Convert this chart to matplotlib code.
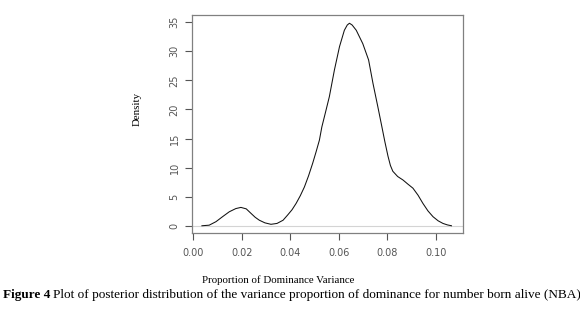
import matplotlib
matplotlib.use("Agg")
import matplotlib.pyplot as plt

# density curve
prop = [0.0035, 0.0065, 0.0093, 0.0120, 0.0148, 0.0175, 0.0196, 0.0218, 0.0237,
        0.0255, 0.0272, 0.0295, 0.0320, 0.0345, 0.0370, 0.0389, 0.0407, 0.0424,
        0.0441, 0.0458, 0.0475, 0.0492, 0.0506, 0.0520, 0.0530, 0.0545, 0.0561,
        0.0582, 0.0603, 0.0623, 0.0635, 0.0644, 0.0655, 0.0672, 0.0699, 0.0723,
        0.0741, 0.0761, 0.0778, 0.0790, 0.0803, 0.0813, 0.0823, 0.0843, 0.0865, 0.0885,
        0.0906, 0.0927, 0.0947, 0.0968, 0.0989, 0.1010, 0.1030, 0.1048, 0.1065]
dens = [0.05, 0.15, 0.75, 1.6, 2.45, 3.0, 3.2, 2.95, 2.2,
        1.5, 1.0, 0.55, 0.3, 0.45, 1.0, 1.9, 2.8, 3.9,
        5.2, 6.7, 8.6, 10.75, 12.7, 14.75, 17.0, 19.5, 22.2,
        26.8, 30.8, 33.6, 34.5, 34.8, 34.5, 33.6, 31.3, 28.5,
        24.5, 20.5, 17.0, 14.5, 12.0, 10.4, 9.4, 8.5, 7.9, 7.2,
        6.5, 5.3, 3.9, 2.6, 1.6, 0.9, 0.45, 0.2, 0.05]

xticks = [0.00, 0.02, 0.04, 0.06, 0.08, 0.10]
xticklabels = ["0.00", "0.02", "0.04", "0.06", "0.08", "0.10"]
yticks = [0, 5, 10, 15, 20, 25, 30, 35]

fig = plt.figure(figsize=(5.8, 3.21), dpi=100)
ax = fig.add_axes([0.331, 0.274, 0.467, 0.679])

ax.axhline(0, color="#d4d4d4", linewidth=0.8, zorder=1)
ax.plot(prop, dens, color="#111111", linewidth=0.75, zorder=2)

ax.set_xlim(-0.0006, 0.1112)
ax.set_ylim(-1.2, 36.2)

for s in ax.spines.values():
    s.set_color("#808080")
    s.set_linewidth(0.9)

ax.set_xticks(xticks)
ax.set_xticklabels(xticklabels)
ax.set_yticks(yticks)
ax.set_yticklabels([str(v) for v in yticks], rotation=90, va="center")
ax.tick_params(axis="both", direction="out", length=5, width=0.8, color="#555555",
               labelsize=7, labelcolor="#555555")
ax.tick_params(axis="x", pad=6)
ax.tick_params(axis="y", pad=4)

serif = ["Liberation Serif", "DejaVu Serif"]
fig.text(0.236, 0.66, "Density", rotation=90, ha="center", va="center",
         fontsize=7.8, family=serif)
fig.text(0.479, 0.127, "Proportion of Dominance Variance", ha="center", va="center",
         fontsize=7.8, family=serif)
cap1 = fig.text(0.005, 0.08, "Figure 4", ha="left", va="center", fontsize=9.5,
                family=serif, fontweight="bold")
fig.canvas.draw()
bb = cap1.get_window_extent()
fig.text((bb.x1 + 3) / fig.bbox.width, 0.08,
         "Plot of posterior distribution of the variance proportion of dominance for number born alive (NBA)",
         ha="left", va="center", fontsize=9.5, family=serif)

fig.savefig("out.png", dpi=100)
